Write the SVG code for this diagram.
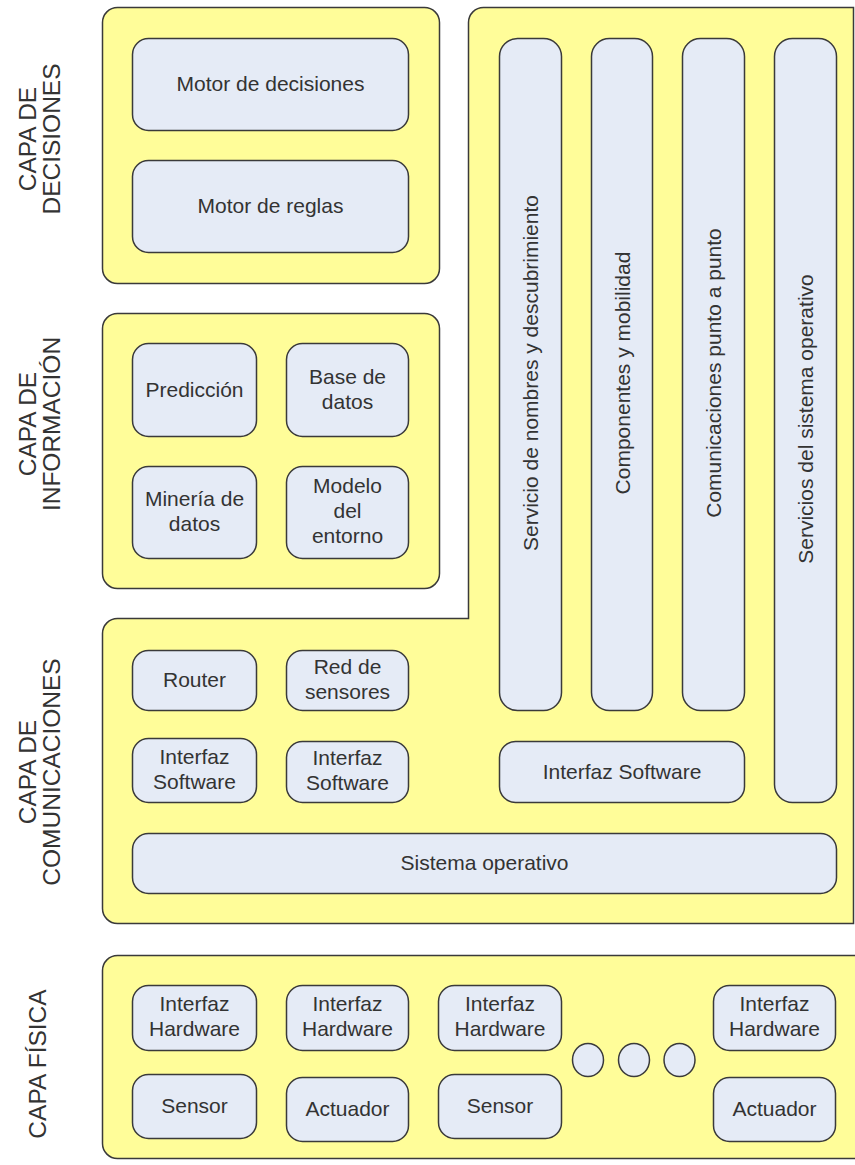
<svg xmlns="http://www.w3.org/2000/svg" width="855" height="1165" viewBox="0 0 855 1165">
  <style>
    .panel { fill: #FFFD99; stroke: #3a3a3a; stroke-width: 1.5; }
    .box { fill: #E5EBF6; stroke: #3a3a3a; stroke-width: 1.5; }
    .t { font-family: "Liberation Sans", Arial, sans-serif; font-size: 21px; fill: #333; text-anchor: middle; }
    .lbl { font-family: "Liberation Sans", Arial, sans-serif; font-size: 24.5px; fill: #333; text-anchor: middle; }
  </style>
  <rect width="855" height="1165" fill="#ffffff"/>

  <!-- layer titles, written bottom-to-top -->
  <g id="labels">
    <text class="lbl" transform="translate(0,139) rotate(-90)"><tspan x="0" y="36">CAPA DE</tspan><tspan x="0" y="60">DECISIONES</tspan></text>
    <text class="lbl" transform="translate(0,424) rotate(-90)"><tspan x="0" y="36">CAPA DE</tspan><tspan x="0" y="60">INFORMACIÓN</tspan></text>
    <text class="lbl" transform="translate(0,772) rotate(-90)"><tspan x="0" y="36">CAPA DE</tspan><tspan x="0" y="60">COMUNICACIONES</tspan></text>
    <text class="lbl" transform="translate(0,1064) rotate(-90)"><tspan x="0" y="46">CAPA FÍSICA</tspan></text>
  </g>

  <!-- decision layer -->
  <g id="capa-decisiones">
    <rect class="panel" x="102.5" y="7.5" width="337" height="276" rx="15"/>
    <g id="motor-decisiones">
      <rect class="box" x="132.5" y="38.5" width="276" height="92" rx="16"/>
      <text class="t" x="270.5" y="91">Motor de decisiones</text>
    </g>
    <g id="motor-reglas">
      <rect class="box" x="132.5" y="160.5" width="276" height="92" rx="16"/>
      <text class="t" x="270.5" y="213">Motor de reglas</text>
    </g>
  </g>

  <!-- information layer -->
  <g id="capa-informacion">
    <rect class="panel" x="102.5" y="313.5" width="337" height="275" rx="15"/>
    <g id="prediccion">
      <rect class="box" x="132.5" y="343.5" width="124" height="93" rx="16"/>
      <text class="t" x="194.5" y="397">Predicción</text>
    </g>
    <g id="base-datos">
      <rect class="box" x="286.5" y="343.5" width="122" height="93" rx="16"/>
      <text class="t" x="347.5" y="384">Base de</text>
      <text class="t" x="347.5" y="409">datos</text>
    </g>
    <g id="mineria-datos">
      <rect class="box" x="132.5" y="466.5" width="124" height="92" rx="16"/>
      <text class="t" x="194.5" y="506">Minería de</text>
      <text class="t" x="194.5" y="531">datos</text>
    </g>
    <g id="modelo-entorno">
      <rect class="box" x="286.5" y="466.5" width="122" height="92" rx="16"/>
      <text class="t" x="347.5" y="493">Modelo</text>
      <text class="t" x="347.5" y="518">del</text>
      <text class="t" x="347.5" y="543">entorno</text>
    </g>
  </g>

  <!-- communication layer joined with the service columns -->
  <g id="capa-comunicaciones">
    <path class="panel" d="M483.5,7.5 H853.5 V923.5 H117.5 A15,15 0 0 1 102.5,908.5 V633.5 A15,15 0 0 1 117.5,618.5 H468.5 V22.5 A15,15 0 0 1 483.5,7.5 Z"/>

    <g id="servicio-nombres">
      <rect class="box" x="499.5" y="38.5" width="62" height="672" rx="18"/>
      <text class="t" transform="translate(530.5,373) rotate(-90)" x="0" y="7.5">Servicio de nombres y descubrimiento</text>
    </g>
    <g id="componentes-movilidad">
      <rect class="box" x="591.5" y="38.5" width="61" height="672" rx="18"/>
      <text class="t" transform="translate(622,373) rotate(-90)" x="0" y="7.5">Componentes y mobilidad</text>
    </g>
    <g id="comunicaciones-p2p">
      <rect class="box" x="682.5" y="38.5" width="62" height="672" rx="18"/>
      <text class="t" transform="translate(713.5,373) rotate(-90)" x="0" y="7.5">Comunicaciones punto a punto</text>
    </g>
    <g id="servicios-so">
      <rect class="box" x="774.5" y="38.5" width="62" height="764" rx="18"/>
      <text class="t" transform="translate(805.5,419) rotate(-90)" x="0" y="7.5">Servicios del sistema operativo</text>
    </g>

    <g id="router">
      <rect class="box" x="132.5" y="650.5" width="124" height="60" rx="16"/>
      <text class="t" x="194.5" y="687">Router</text>
    </g>
    <g id="red-sensores">
      <rect class="box" x="286.5" y="650.5" width="122" height="60" rx="16"/>
      <text class="t" x="347.5" y="674">Red de</text>
      <text class="t" x="347.5" y="699">sensores</text>
    </g>
    <g id="interfaz-software-1">
      <rect class="box" x="132.5" y="738.5" width="124" height="64" rx="16"/>
      <text class="t" x="194.5" y="764">Interfaz</text>
      <text class="t" x="194.5" y="789">Software</text>
    </g>
    <g id="interfaz-software-2">
      <rect class="box" x="286.5" y="741.5" width="122" height="61" rx="16"/>
      <text class="t" x="347.5" y="765">Interfaz</text>
      <text class="t" x="347.5" y="790">Software</text>
    </g>
    <g id="interfaz-software-3">
      <rect class="box" x="499.5" y="741.5" width="245" height="61" rx="16"/>
      <text class="t" x="622" y="779">Interfaz Software</text>
    </g>
    <g id="sistema-operativo">
      <rect class="box" x="132.5" y="833.5" width="704" height="60" rx="16"/>
      <text class="t" x="484.5" y="870">Sistema operativo</text>
    </g>
  </g>

  <!-- physical layer -->
  <g id="capa-fisica">
    <rect class="panel" x="102.5" y="955.5" width="790" height="203" rx="15"/>
    <g id="interfaz-hardware-1">
      <rect class="box" x="132.5" y="985.5" width="124" height="65" rx="16"/>
      <text class="t" x="194.5" y="1011">Interfaz</text>
      <text class="t" x="194.5" y="1036">Hardware</text>
    </g>
    <g id="sensor-1">
      <rect class="box" x="132.5" y="1074.5" width="124" height="64" rx="16"/>
      <text class="t" x="194.5" y="1113">Sensor</text>
    </g>
    <g id="interfaz-hardware-2">
      <rect class="box" x="286.5" y="985.5" width="122" height="65" rx="16"/>
      <text class="t" x="347.5" y="1011">Interfaz</text>
      <text class="t" x="347.5" y="1036">Hardware</text>
    </g>
    <g id="actuador-1">
      <rect class="box" x="286.5" y="1077.5" width="122" height="64" rx="16"/>
      <text class="t" x="347.5" y="1116">Actuador</text>
    </g>
    <g id="interfaz-hardware-3">
      <rect class="box" x="438.5" y="985.5" width="123" height="65" rx="16"/>
      <text class="t" x="500" y="1011">Interfaz</text>
      <text class="t" x="500" y="1036">Hardware</text>
    </g>
    <g id="sensor-2">
      <rect class="box" x="438.5" y="1074.5" width="123" height="64" rx="16"/>
      <text class="t" x="500" y="1113">Sensor</text>
    </g>
    <g id="continuacion">
      <ellipse class="box" cx="588" cy="1060" rx="15.5" ry="16.5"/>
      <ellipse class="box" cx="634" cy="1060" rx="15.5" ry="16.5"/>
      <ellipse class="box" cx="679.5" cy="1060" rx="15.5" ry="16.5"/>
    </g>
    <g id="interfaz-hardware-4">
      <rect class="box" x="713.5" y="985.5" width="122" height="65" rx="16"/>
      <text class="t" x="774.5" y="1011">Interfaz</text>
      <text class="t" x="774.5" y="1036">Hardware</text>
    </g>
    <g id="actuador-2">
      <rect class="box" x="713.5" y="1077.5" width="122" height="64" rx="16"/>
      <text class="t" x="774.5" y="1116">Actuador</text>
    </g>
  </g>

  <!-- no connectors in this diagram -->
  <g id="connectors"/>
</svg>
